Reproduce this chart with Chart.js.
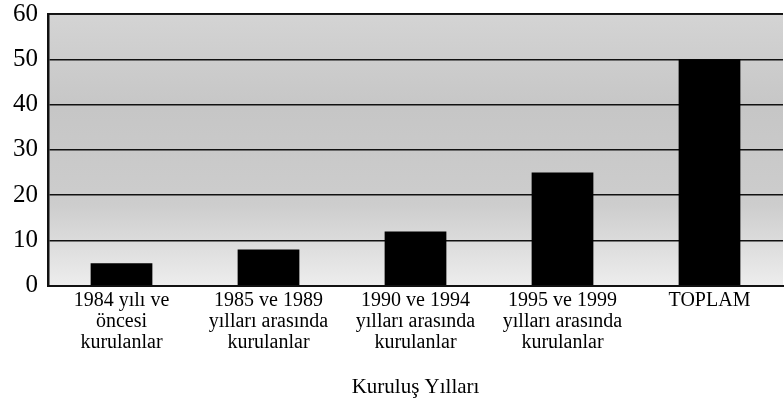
<!DOCTYPE html>
<html>
<head>
<meta charset="utf-8">
<script src="https://cdn.jsdelivr.net/npm/chart.js@4/dist/chart.umd.min.js"></script>
<style>
  html, body { margin:0; padding:0; background:#fff; }
  #wrap { width:784px; height:413px; }
</style>
</head>
<body>
<div id="wrap"><canvas id="c" width="784" height="413"></canvas></div>
<script>
// kuruluş yıllarına göre sayılar
const CATEGORIES = [
  ['1984 yılı ve', 'öncesi', 'kurulanlar'],
  ['1985 ve 1989', 'yılları arasında', 'kurulanlar'],
  ['1990 ve 1994', 'yılları arasında', 'kurulanlar'],
  ['1995 ve 1999', 'yılları arasında', 'kurulanlar'],
  'TOPLAM'
];
const VALUES = [5, 8, 12, 25, 50];
const Y_MIN = 0, Y_MAX = 60, Y_STEP = 10;
const X_TITLE = 'Kuruluş Yılları';

const SERIF = '"Liberation Serif", "Times New Roman", serif';

// gri noktalı zemin yerine basit bir gradyan
const plotBg = {
  id: 'plotBg',
  beforeDraw(chart){
    const {ctx, chartArea:a, scales:{y}} = chart;
    const g = ctx.createLinearGradient(0, a.top, 0, a.bottom);
    g.addColorStop(0, '#d4d4d4');
    g.addColorStop(0.35, '#c6c6c6');
    g.addColorStop(0.7, '#cdcdcd');
    g.addColorStop(1, '#ededed');
    ctx.save();
    ctx.fillStyle = g;
    ctx.fillRect(a.left, a.top, a.right - a.left, a.bottom - a.top);
    // üst çerçeve
    ctx.strokeStyle = '#222';
    ctx.lineWidth = 2;
    ctx.beginPath();
    ctx.moveTo(a.left, y.getPixelForValue(Y_MAX));
    ctx.lineTo(a.right, y.getPixelForValue(Y_MAX));
    ctx.stroke();
    ctx.restore();
  }
};

new Chart(document.getElementById('c'), {
  type: 'bar',
  data: {
    labels: CATEGORIES,
    datasets: [{
      data: VALUES,
      backgroundColor: '#000',
      borderWidth: 0,
      barPercentage: 0.42,
      categoryPercentage: 1
    }]
  },
  options: {
    responsive: false,
    animation: false,
    layout: { padding: { top: 0, right: 1, left: 0, bottom: 13 } },
    plugins: { legend: { display: false }, tooltip: { enabled: false } },
    scales: {
      x: {
        grid: { display: false, drawTicks: false },
        border: { display: true, color: '#111', width: 2 },
        ticks: {
          color: '#000',
          padding: 4,
          maxRotation: 0,
          autoSkip: false,
          font: { family: SERIF, size: 20, lineHeight: 1.05 }
        },
        title: {
          display: true,
          text: X_TITLE,
          color: '#000',
          padding: { top: 18, bottom: 0 },
          font: { family: SERIF, size: 21, lineHeight: 1.2 }
        }
      },
      y: {
        min: Y_MIN, max: Y_MAX,
        afterFit(s){ s.width = 48; s.paddingTop = 14; s.paddingBottom = 0; },
        grid: { color: '#111', lineWidth: 1.5, drawTicks: false },
        border: { display: true, color: '#111', width: 2.5 },
        ticks: {
          stepSize: Y_STEP,
          color: '#000',
          padding: 10,
          font: { family: SERIF, size: 25, lineHeight: 1 }
        }
      }
    }
  },
  plugins: [plotBg]
});
</script>
</body>
</html>
